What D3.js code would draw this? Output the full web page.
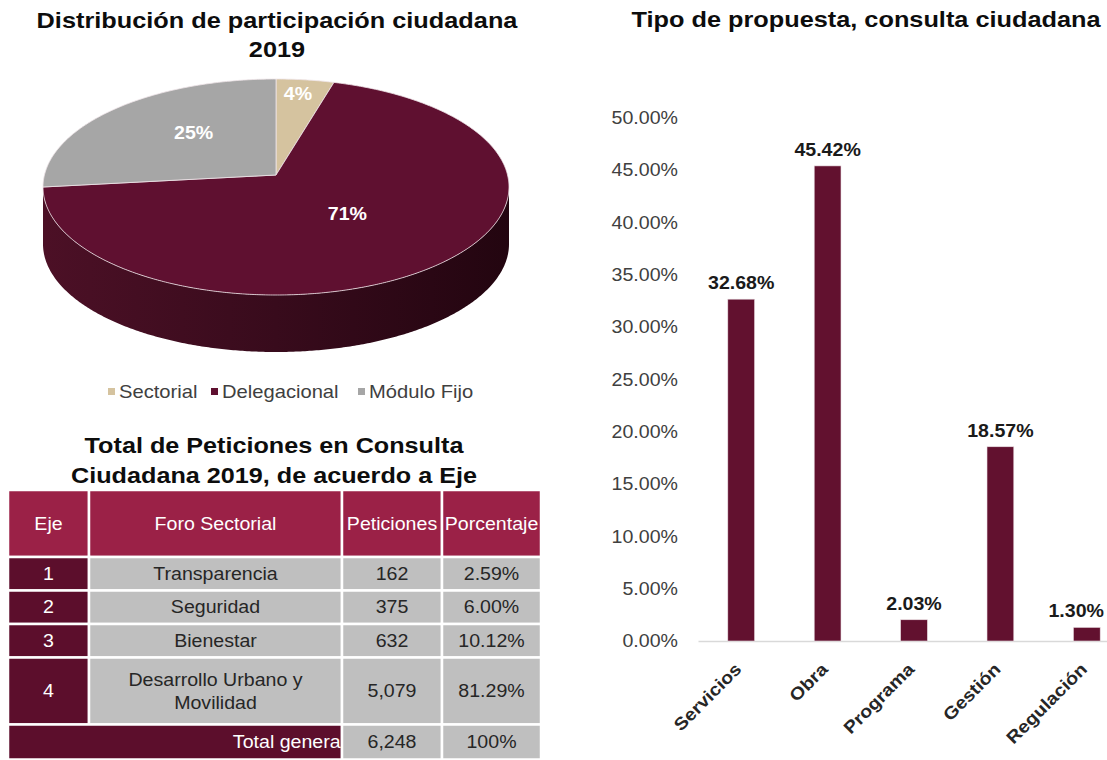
<!DOCTYPE html>
<html>
<head>
<meta charset="utf-8">
<script src="https://cdn.jsdelivr.net/npm/d3@7"></script>
<style>
body{margin:0;background:#fff;}
text{font-family:"Liberation Sans",Arial,sans-serif;}
</style>
</head>
<body>
<script>
// pie: participacion ciudadana 2019
var pieLabels = ["Sectorial","Delegacional","Módulo Fijo"];
var pieValues = [4, 71, 25];
var pieColours = ["#d5c39f","#5f1030","#a6a6a6"];

// table: peticiones por eje
var tableHead = ["Eje","Foro Sectorial","Peticiones","Porcentaje"];
var ejes = ["1","2","3","4"];
var foros = ["Transparencia","Seguridad","Bienestar","Desarrollo Urbano y Movilidad"];
var peticiones = [162,375,632,5079];
var porcentajes = [2.59,6.00,10.12,81.29];

// bars: tipo de propuesta
var tipos = ["Servicios","Obra","Programa","Gestión","Regulación"];
var tipoValues = [32.68,45.42,2.03,18.57,1.30];
var yTicks = [0,5,10,15,20,25,30,35,40,45,50];

var W=1107, H=760;
var SX = 1.12; // the source picture is a bit wider than tall
var svg = d3.select("body").append("svg")
.attr("width",W)
.attr("height",H);

function txt(parent, x, y, s){
  return parent.append("text")
  .attr("transform","translate("+x+","+y+") scale("+SX+",1)")
  .text(s);
}

//---------------- pie ----------------
var cx=276, cy=187, rx=233, ry=108, depth=57, apexY=cy-12;
function pt(a){ return [cx+rx*Math.sin(a), cy-ry*Math.cos(a)]; }
function arcPts(a0,a1){
  var n=Math.max(2,Math.ceil((a1-a0)/0.01)), out=[];
  for(var i=0;i<=n;i++){ out.push(pt(a0+(a1-a0)*i/n)); }
  return out;
}
var line=d3.line();
var slices=d3.pie().sort(null)(pieValues);

var defs=svg.append("defs");
var grad=defs.append("linearGradient").attr("id","side")
.attr("gradientUnits","userSpaceOnUse")
.attr("x1",cx-rx).attr("x2",cx+rx).attr("y1",0).attr("y2",0);
grad.append("stop").attr("offset","0%").attr("stop-color","#4c1026");
grad.append("stop").attr("offset","50%").attr("stop-color","#380b1c");
grad.append("stop").attr("offset","100%").attr("stop-color","#230510");

var pie=svg.append("g");
//side wall, only the front half shows
slices.forEach(function(d){
  var a0=Math.max(d.startAngle,Math.PI/2), a1=Math.min(d.endAngle,3*Math.PI/2);
  if(a1<=a0) return;
  var top=arcPts(a0,a1);
  var bottom=top.map(function(p){return [p[0],p[1]+depth];}).reverse();
  pie.append("path")
  .attr("d",line(top.concat(bottom))+"Z")
  .attr("fill","url(#side)");
});
pie.selectAll(".slice")
.data(slices)
.enter().append("path")
.attr("class","slice")
.attr("d",function(d){ return line([[cx,apexY]].concat(arcPts(d.startAngle,d.endAngle)))+"Z"; })
.attr("fill",function(d,i){return pieColours[i];})
.attr("stroke","#efe4e8")
.attr("stroke-width",0.8);

slices.forEach(function(d,i){
  var mid=(d.startAngle+d.endAngle)/2, e=pt(mid);
  var f=(d.endAngle-d.startAngle)<0.5 ? 0.75 : 0.5;
  txt(pie, cx+f*(e[0]-cx), apexY+f*(e[1]-apexY)-10, d3.format(".0f")(pieValues[i])+"%")
  .attr("text-anchor","middle").attr("dy","0.35em")
  .attr("font-size",17.5).attr("font-weight","bold").attr("fill","#fff");
});

txt(svg,277,28,"Distribución de participación ciudadana")
.attr("text-anchor","middle").attr("font-size",22.6).attr("font-weight","bold").attr("fill","#0d0d0d");
txt(svg,277,57,"2019")
.attr("text-anchor","middle").attr("font-size",22.6).attr("font-weight","bold").attr("fill","#0d0d0d");

//legend
var legX=[108,211,358];
pieLabels.forEach(function(l,i){
  svg.append("rect").attr("x",legX[i]).attr("y",388).attr("width",7).attr("height",7).attr("fill",pieColours[i]);
  txt(svg,legX[i]+11,398,l).attr("font-size",18).attr("fill","#404040");
});

//---------------- table ----------------
txt(svg,274,453,"Total de Peticiones en Consulta")
.attr("text-anchor","middle").attr("font-size",22.5).attr("font-weight","bold").attr("fill","#0d0d0d");
txt(svg,274,483,"Ciudadana 2019, de acuerdo a Eje")
.attr("text-anchor","middle").attr("font-size",22.5).attr("font-weight","bold").attr("fill","#0d0d0d");

var colX=[8,89,342,442,541], top0=490, headH=67, lineH=33.5;
var tbl=svg.append("g");
function cell(c0,c1,y0,h,fill){
  tbl.append("rect").attr("x",colX[c0]).attr("y",y0)
  .attr("width",colX[c1]-colX[c0]).attr("height",h)
  .attr("fill",fill).attr("stroke","#fff").attr("stroke-width",2.5);
}
function colMid(c){ return (colX[c]+colX[c+1])/2; }

tableHead.forEach(function(h,c){
  cell(c,c+1,top0,headH,"#9b2147");
  txt(tbl,colMid(c),top0+headH/2,h).attr("text-anchor","middle").attr("dy","0.35em")
  .attr("font-size",17.5).attr("fill","#fff");
});

//wrap the foro names to the width of their column
var probe=svg.append("text").attr("font-size",17.5);
function wrap(s,maxW){
  var words=s.split(" "), lines=[], cur="";
  words.forEach(function(w){
    var t=cur?cur+" "+w:w;
    probe.text(t);
    if(probe.node().getComputedTextLength()*SX>maxW && cur){ lines.push(cur); cur=w; }
    else cur=t;
  });
  lines.push(cur);
  return lines;
}

var yy=top0+headH;
foros.forEach(function(f,i){
  var lines=wrap(f,colX[2]-colX[1]-60);
  var h=lines.length>1 ? headH : lineH;
  cell(0,1,yy,h,"#5c0e2c");
  cell(1,2,yy,h,"#bfbfbf");
  cell(2,3,yy,h,"#bfbfbf");
  cell(3,4,yy,h,"#bfbfbf");
  var m=yy+h/2;
  txt(tbl,colMid(0),m,ejes[i]).attr("text-anchor","middle").attr("dy","0.35em").attr("font-size",17.5).attr("fill","#fff");
  lines.forEach(function(l,k){
    txt(tbl,colMid(1),m+(k-(lines.length-1)/2)*23,l).attr("text-anchor","middle").attr("dy","0.35em").attr("font-size",17.5).attr("fill","#262626");
  });
  txt(tbl,colMid(2),m,d3.format(",")(peticiones[i])).attr("text-anchor","middle").attr("dy","0.35em").attr("font-size",17.5).attr("fill","#262626");
  txt(tbl,colMid(3),m,d3.format(".2f")(porcentajes[i])+"%").attr("text-anchor","middle").attr("dy","0.35em").attr("font-size",17.5).attr("fill","#262626");
  yy+=h;
});
probe.remove();

//total row
var totH=35;
cell(0,2,yy,totH,"#5c0e2c");
txt(tbl,colX[2]+3,yy+totH/2,"Total general").attr("text-anchor","end").attr("dy","0.35em").attr("font-size",17.5).attr("fill","#fff");
cell(2,3,yy,totH,"#bfbfbf");
cell(3,4,yy,totH,"#bfbfbf");
txt(tbl,colMid(2),yy+totH/2,d3.format(",")(d3.sum(peticiones))).attr("text-anchor","middle").attr("dy","0.35em").attr("font-size",17.5).attr("fill","#262626");
txt(tbl,colMid(3),yy+totH/2,d3.format(".0f")(d3.sum(porcentajes))+"%").attr("text-anchor","middle").attr("dy","0.35em").attr("font-size",17.5).attr("fill","#262626");

//---------------- bars ----------------
txt(svg,866,27,"Tipo de propuesta, consulta ciudadana")
.attr("text-anchor","middle").attr("font-size",22.6).attr("font-weight","bold").attr("fill","#0d0d0d");

var x=d3.scaleBand().domain(tipos).range([698,1130]).paddingInner(0.69).paddingOuter(0.345);
var y=d3.scaleLinear().domain([0,50]).range([641,118]);

var yAxis=svg.append("g")
.attr("transform","translate(678,0)")
.call(d3.axisLeft(y).tickValues(yTicks).tickSize(0).tickPadding(0)
  .tickFormat(function(d){return d3.format(".2f")(d)+"%";}));
yAxis.select(".domain").remove();
yAxis.selectAll("text")
.attr("transform","scale("+SX+",1)")
.attr("font-size",17.5).attr("fill","#404040")
.style("font-family","Liberation Sans");

var xAxis=svg.append("g")
.attr("transform","translate(0,641)")
.call(d3.axisBottom(x).tickSize(0));
xAxis.select(".domain").attr("stroke","#d9d9d9").attr("stroke-width",1.5);
xAxis.selectAll("text")
.attr("x",0).attr("y",0).attr("dy","0.35em")
.attr("text-anchor","end")
.attr("transform","translate(-3,25) rotate(-45) scale("+SX+",1)")
.attr("font-size",17.5).attr("font-weight","bold").attr("fill","#262626")
.style("font-family","Liberation Sans");

svg.append("g")
.selectAll(".bar")
.data(tipos)
.enter().append("rect")
.attr("class","bar")
.attr("x",function(d){return x(d);})
.attr("width",x.bandwidth())
.attr("y",function(d,i){return y(tipoValues[i]);})
.attr("height",function(d,i){return y(0)-y(tipoValues[i]);})
.attr("fill","#62112f")
.attr("stroke","#eadde2")
.attr("stroke-width",0.6);

//value labels, kept inside the picture
tipos.forEach(function(d,i){
  var lab=txt(svg,0,0,d3.format(".2f")(tipoValues[i])+"%")
  .attr("text-anchor","middle").attr("font-size",17.5).attr("font-weight","bold").attr("fill","#1a1a1a");
  var half=lab.node().getComputedTextLength()*SX/2;
  var lx=Math.min(x(d)+x.bandwidth()/2, W-half-3);
  lab.attr("transform","translate("+lx+","+(y(tipoValues[i])-10)+") scale("+SX+",1)");
});
</script>
</body>
</html>
